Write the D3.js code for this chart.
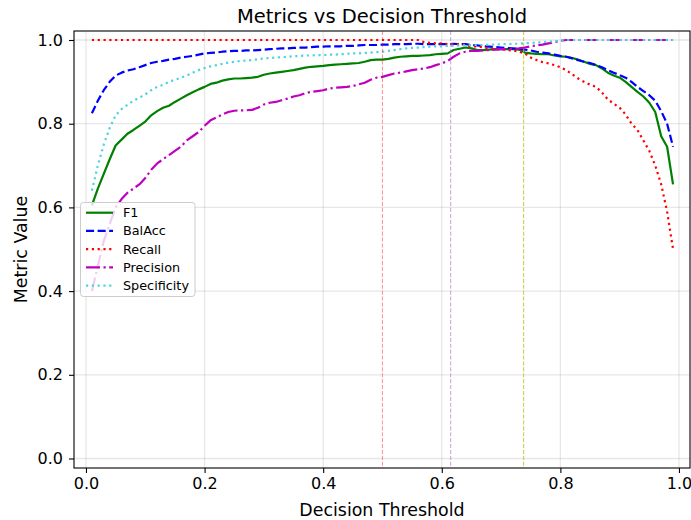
<!DOCTYPE html>
<html>
<head>
<meta charset="utf-8">
<script src="https://cdn.jsdelivr.net/npm/d3@7"></script>
<style>
  html, body { margin: 0; padding: 0; background: #fff; }
  svg { display: block; font-family: "DejaVu Sans", sans-serif; }
</style>
</head>
<body>
<svg id="chart" width="691" height="520"></svg>
<script>
// ---- Data ----
const thresholds = [0.01,0.02,0.03,0.04,0.05,0.06,0.07,0.08,0.09,0.10,
0.11,0.12,0.13,0.14,0.15,0.16,0.17,0.18,0.19,0.20,
0.21,0.22,0.23,0.24,0.25,0.26,0.27,0.28,0.29,0.30,
0.31,0.32,0.33,0.34,0.35,0.36,0.37,0.38,0.39,0.40,
0.41,0.42,0.43,0.44,0.45,0.46,0.47,0.48,0.49,0.50,
0.51,0.52,0.53,0.54,0.55,0.56,0.57,0.58,0.59,0.60,
0.61,0.62,0.63,0.64,0.65,0.66,0.67,0.68,0.69,0.70,
0.71,0.72,0.73,0.74,0.75,0.76,0.77,0.78,0.79,0.80,
0.81,0.82,0.83,0.84,0.85,0.86,0.87,0.88,0.89,0.90,
0.91,0.92,0.93,0.94,0.95,0.96,0.97,0.98,0.99];

const f1 = [0.605,0.645,0.680,0.715,0.748,0.762,0.776,0.785,0.795,0.805,
0.820,0.830,0.838,0.843,0.852,0.860,0.868,0.875,0.882,0.888,
0.895,0.898,0.903,0.906,0.908,0.908,0.909,0.910,0.912,0.917,
0.920,0.922,0.924,0.926,0.928,0.931,0.934,0.936,0.937,0.938,
0.940,0.941,0.942,0.943,0.944,0.945,0.948,0.952,0.953,0.953,
0.955,0.958,0.960,0.961,0.962,0.962,0.963,0.964,0.966,0.967,
0.968,0.976,0.979,0.982,0.980,0.976,0.976,0.977,0.978,0.978,
0.978,0.978,0.977,0.970,0.968,0.967,0.966,0.966,0.963,0.961,
0.960,0.957,0.953,0.948,0.943,0.940,0.932,0.922,0.915,0.910,
0.900,0.888,0.876,0.865,0.850,0.828,0.770,0.745,0.655];

const balAcc = [0.825,0.855,0.880,0.900,0.915,0.922,0.927,0.930,0.935,0.940,
0.945,0.948,0.950,0.953,0.955,0.958,0.960,0.962,0.965,0.968,
0.969,0.970,0.972,0.973,0.974,0.974,0.975,0.975,0.976,0.977,
0.978,0.979,0.980,0.980,0.981,0.982,0.982,0.983,0.984,0.984,
0.985,0.985,0.985,0.986,0.986,0.987,0.988,0.988,0.988,0.989,
0.989,0.990,0.990,0.990,0.991,0.991,0.990,0.990,0.990,0.990,
0.990,0.991,0.990,0.990,0.988,0.987,0.985,0.984,0.983,0.982,
0.981,0.980,0.979,0.977,0.975,0.972,0.970,0.968,0.965,0.962,
0.960,0.956,0.952,0.948,0.945,0.940,0.935,0.928,0.922,0.916,
0.910,0.900,0.888,0.878,0.868,0.855,0.830,0.800,0.745];

const recall = [1,1,1,1,1,1,1,1,1,1,
1,1,1,1,1,1,1,1,1,1,
1,1,1,1,1,1,1,1,1,1,
1,1,1,1,1,1,1,1,1,1,
1,1,1,1,1,1,1,1,1,1,
1,1,1,1,1,1,0.995,0.993,0.992,0.992,
0.990,0.990,0.990,0.988,0.985,0.985,0.982,0.980,0.978,0.978,
0.976,0.975,0.972,0.968,0.958,0.952,0.947,0.944,0.940,0.935,
0.928,0.918,0.908,0.900,0.893,0.888,0.875,0.858,0.848,0.838,
0.822,0.800,0.785,0.760,0.735,0.700,0.655,0.590,0.500];

const precision = [0.400,0.460,0.520,0.560,0.600,0.620,0.635,0.645,0.655,0.670,
0.690,0.705,0.715,0.725,0.735,0.745,0.760,0.770,0.780,0.795,
0.808,0.815,0.822,0.828,0.831,0.832,0.832,0.833,0.838,0.846,
0.850,0.852,0.856,0.860,0.865,0.868,0.873,0.876,0.878,0.880,
0.884,0.886,0.887,0.888,0.890,0.894,0.898,0.905,0.910,0.912,
0.916,0.920,0.922,0.925,0.928,0.930,0.932,0.935,0.940,0.944,
0.950,0.960,0.968,0.972,0.974,0.974,0.975,0.976,0.977,0.978,
0.978,0.979,0.980,0.982,0.985,0.987,0.989,0.992,0.995,0.998,
1,1,1,1,1,1,1,1,1,1,
1,1,1,1,1,1,1,1,1];

const specificity = [0.640,0.700,0.750,0.790,0.820,0.835,0.845,0.855,0.862,0.870,
0.880,0.888,0.893,0.900,0.905,0.910,0.915,0.922,0.928,0.933,
0.937,0.940,0.943,0.946,0.948,0.950,0.951,0.952,0.954,0.956,
0.957,0.958,0.959,0.960,0.961,0.962,0.963,0.963,0.964,0.964,
0.965,0.965,0.966,0.967,0.968,0.968,0.969,0.970,0.971,0.972,
0.974,0.976,0.978,0.980,0.981,0.982,0.983,0.984,0.985,0.985,
0.986,0.986,0.987,0.987,0.988,0.988,0.988,0.989,0.989,0.990,
0.990,0.991,0.991,0.992,0.993,0.994,0.995,0.996,0.997,0.998,
1,1,1,1,1,1,1,1,1,1,
1,1,1,1,1,1,1,1,1];

const seriesNames = ["F1", "BalAcc", "Recall", "Precision", "Specificity"];
const seriesValues = [f1, balAcc, recall, precision, specificity];
const seriesColors = ["#008000", "#0000ff", "#ff0000", "#bf00bf", "#4fd3de"];
const seriesDashes = [null, "8.1,3.5", "2.2,3.6", "14,3.5,2.2,3.5", "2.2,3.6"];

const markerThresholds = [0.5, 0.615, 0.738];
const markerColors = ["#ff0000", "#9467bd", "#bcbd22"];
const markerOpacity = [0.4, 0.55, 0.75];

const xTicks = [0.0, 0.2, 0.4, 0.6, 0.8, 1.0];
const yTicks = [0.0, 0.2, 0.4, 0.6, 0.8, 1.0];

// ---- Layout ----
const svg = d3.select("#chart");
const L = 74, R = 690, T = 31, B = 468;
const x = d3.scaleLinear().domain([-0.0202, 1.0186]).range([L, R]);
const y = d3.scaleLinear().domain([-0.0227, 1.0215]).range([B, T]);

// grid
const grid = svg.append("g");
grid.selectAll("line.gx").data(xTicks).enter().append("line")
  .attr("x1", d => x(d)).attr("x2", d => x(d)).attr("y1", T).attr("y2", B)
  .attr("stroke", "#b0b0b0").attr("stroke-opacity", 0.3).attr("stroke-width", 1.3);
grid.selectAll("line.gy").data(yTicks).enter().append("line")
  .attr("y1", d => y(d)).attr("y2", d => y(d)).attr("x1", L).attr("x2", R)
  .attr("stroke", "#b0b0b0").attr("stroke-opacity", 0.3).attr("stroke-width", 1.3);

// series
const line = d3.line().x((d, i) => x(thresholds[i])).y(d => y(d));
seriesValues.forEach((vals, k) => {
  svg.append("path").datum(vals)
    .attr("d", line)
    .attr("fill", "none")
    .attr("stroke", seriesColors[k])
    .attr("stroke-width", 2.2)
    .attr("stroke-linejoin", "round")
    .attr("stroke-dasharray", seriesDashes[k]);
});

// vertical markers
markerThresholds.forEach((t, k) => {
  svg.append("line")
    .attr("x1", x(t)).attr("x2", x(t)).attr("y1", T).attr("y2", B)
    .attr("stroke", markerColors[k]).attr("stroke-opacity", markerOpacity[k])
    .attr("stroke-width", 1.1).attr("stroke-dasharray", "4.1,1.8");
});

// axes
const xAxis = d3.axisBottom(x).tickValues(xTicks).tickFormat(d3.format(".1f")).tickSize(5).tickPadding(5);
const yAxis = d3.axisLeft(y).tickValues(yTicks).tickFormat(d3.format(".1f")).tickSize(5).tickPadding(6);
const gx = svg.append("g").attr("transform", `translate(0,${B})`).call(xAxis);
const gy = svg.append("g").attr("transform", `translate(${L},0)`).call(yAxis);
[gx, gy].forEach(g => {
  g.select(".domain").remove();
  g.selectAll(".tick line").attr("stroke", "#000").attr("stroke-width", 1.1);
  g.selectAll(".tick text").attr("fill", "#000").style("font-size", "16px")
    .style("font-family", "'DejaVu Sans', sans-serif");
});

// frame
svg.append("rect").attr("x", L).attr("y", T).attr("width", R - L).attr("height", B - T)
  .attr("fill", "none").attr("stroke", "#000").attr("stroke-width", 1.1);

// title and labels
svg.append("text").attr("x", (L + R) / 2).attr("y", 23).attr("text-anchor", "middle")
  .style("font-size", "19.5px").text("Metrics vs Decision Threshold");
svg.append("text").attr("x", (L + R) / 2).attr("y", 516).attr("text-anchor", "middle")
  .style("font-size", "17.4px").text("Decision Threshold");
svg.append("text").attr("transform", `translate(27,${(T + B) / 2}) rotate(-90)`)
  .attr("text-anchor", "middle").style("font-size", "17.4px").text("Metric Value");

// legend
const lg = svg.append("g");
lg.append("rect").attr("x", 80.5).attr("y", 202.5).attr("width", 114.5).attr("height", 94)
  .attr("rx", 3).attr("fill", "#fff").attr("fill-opacity", 0.8)
  .attr("stroke", "#cccccc").attr("stroke-width", 1);
seriesNames.forEach((name, k) => {
  const cy = 212.7 + k * 18.25;
  lg.append("line").attr("x1", 86).attr("x2", 113).attr("y1", cy).attr("y2", cy)
    .attr("stroke", seriesColors[k]).attr("stroke-width", 2.2)
    .attr("stroke-dasharray", seriesDashes[k]);
  lg.append("text").attr("x", 123).attr("y", cy + 4.5).style("font-size", "12.8px").text(name);
});
</script>
</body>
</html>
